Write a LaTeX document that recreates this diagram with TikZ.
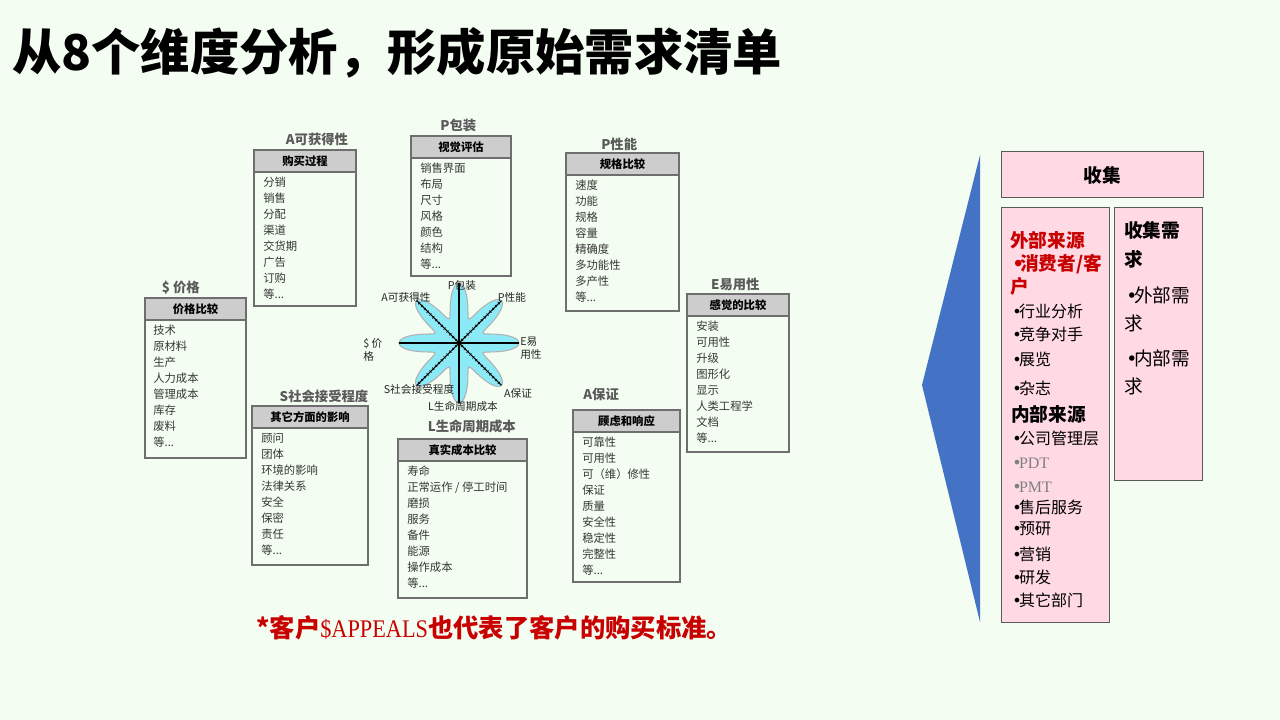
\documentclass[tikz,border=0pt]{standalone}
\usepackage{fontspec}
\setmainfont{Noto Sans CJK SC}
\newfontfamily\latinserif{Liberation Serif}
\newfontfamily\bulletfont{DejaVu Sans}
\usetikzlibrary{positioning,calc}

\newcommand\dotmark{\makebox[0.42em][l]{\bulletfont •}}

\definecolor{slidebg}{RGB}{243,253,241}
\definecolor{framegray}{RGB}{110,110,110}
\definecolor{hdrgray}{RGB}{205,205,205}
\definecolor{petal}{RGB}{140,234,246}
\definecolor{catgray}{RGB}{90,90,90}
\definecolor{itemgray}{RGB}{55,55,55}
\definecolor{notered}{RGB}{200,0,0}
\definecolor{chevron}{RGB}{68,114,196}
\definecolor{pinkfill}{RGB}{255,217,228}
\definecolor{pinkline}{RGB}{89,89,89}

\tikzset{
  hdr/.style={draw=framegray, line width=1.5pt, fill=hdrgray, anchor=north west, inner sep=0pt, outer sep=0pt,
    minimum height=16.5pt, font=\bfseries\fontsize{8.5}{10}\selectfont},
  frame/.style={draw=framegray, line width=1.5pt},
  items/.style={anchor=north west, align=left, inner sep=0pt, text=itemgray, font=\fontsize{8.5}{12}\selectfont},
  cat/.style={text=catgray, inner sep=0pt, font=\bfseries\fontsize{10}{12}\selectfont},
  axislbl/.style={inner sep=0pt, text=black!85, font=\fontsize{8}{9.75}\selectfont},
  pinkbox/.style={draw=pinkline, fill=pinkfill, line width=0.75pt, anchor=north west, inner sep=0pt, outer sep=0pt},
  srcitem/.style={anchor=west, inner sep=0pt, font=\fontsize{12}{14}\selectfont},
  srchead/.style={anchor=west, inner sep=0pt, font=\bfseries\fontsize{14}{16}\selectfont},
  needitem/.style={anchor=west, inner sep=0pt, font=\fontsize{14}{16}\selectfont},
}

\begin{document}
\begin{tikzpicture}[x=0.75pt,y=-0.75pt]
\useasboundingbox (0,0) rectangle (1280,720);
\fill[slidebg] (0,0) rectangle (1280,720);

% title
\node[anchor=west, inner sep=0pt, font=\bfseries\fontsize{37}{40}\selectfont] (title) at (12,53) {从8个维度分析，形成原始需求清单};

% $ price
\node[hdr, minimum width=75.75pt] (priceH) at (145,298) {价格比较};
\draw[frame] (priceH.north west) rectangle ++(101,160);
\node[items] (priceL) at ($(priceH.south west)+(8,5)$) {技术\\原材料\\生产\\人力成本\\管理成本\\库存\\废料\\等...};
\node[cat, above=3pt of priceH, xshift=-11pt] (priceT) {\$ 价格};

% A availability
\node[hdr, minimum width=76.5pt] (availH) at (254,150) {购买过程};
\draw[frame] (availH.north west) rectangle ++(102,156);
\node[items] (availL) at ($(availH.south west)+(9,5)$) {分销\\销售\\分配\\渠道\\交货期\\广告\\订购\\等...};
\node[cat, above=3pt of availH, xshift=9pt] (availT) {A可获得性};

% P packaging
\node[hdr, minimum width=75pt] (packH) at (411,136) {视觉评估};
\draw[frame] (packH.north west) rectangle ++(100,140);
\node[items] (packL) at ($(packH.south west)+(9,5)$) {销售界面\\布局\\尺寸\\风格\\颜色\\结构\\等...};
\node[cat, above=3pt of packH, xshift=-2pt] (packT) {P包装};

% P performance
\node[hdr, minimum width=84.75pt] (perfH) at (566,153) {规格比较};
\draw[frame] (perfH.north west) rectangle ++(113,158);
\node[items] (perfL) at ($(perfH.south west)+(9,5)$) {速度\\功能\\规格\\容量\\精确度\\多功能性\\多产性\\等...};
\node[cat, above=1.5pt of perfH, xshift=-2.5pt] (perfT) {P性能};

% E ease of use
\node[hdr, minimum width=76.5pt] (easeH) at (687,294) {感觉的比较};
\draw[frame] (easeH.north west) rectangle ++(102,158);
\node[items] (easeL) at ($(easeH.south west)+(9,5)$) {安装\\可用性\\升级\\图形化\\显示\\人类工程学\\文档\\等...};
\node[cat, above=2pt of easeH, xshift=-2pt] (easeT) {E易用性};

% A assurances
\node[hdr, minimum width=80.25pt] (assurH) at (573,410) {顾虑和响应};
\draw[frame] (assurH.north west) rectangle ++(107,172);
\node[items] (assurL) at ($(assurH.south west)+(9,5)$) {可靠性\\可用性\\可（维）修性\\保证\\质量\\安全性\\稳定性\\完整性\\等...};
\node[cat, above=7pt of assurH, xshift=-19pt] (assurT) {A保证};

% S social acceptance
\node[hdr, minimum width=87pt] (socH) at (252,406) {其它方面的影响};
\draw[frame] (socH.north west) rectangle ++(116,159);
\node[items] (socL) at ($(socH.south west)+(9,5)$) {顾问\\团体\\环境的影响\\法律关系\\安全\\保密\\责任\\等...};
\node[cat, above=2pt of socH, xshift=10.5pt] (socT) {S社会接受程度};

% L life cycle cost
\node[hdr, minimum width=96.75pt] (lifeH) at (398,439) {真实成本比较};
\draw[frame] (lifeH.north west) rectangle ++(129,159);
\node[items] (lifeL) at ($(lifeH.south west)+(9,5)$) {寿命\\正常运作 / 停工时间\\磨损\\服务\\备件\\能源\\操作成本\\等...};
\node[cat, above=4pt of lifeH, xshift=7pt] (lifeT) {L生命周期成本};

% star
\coordinate (ctr) at (459,343);
\begin{scope}[shift={(ctr)}]
\draw[fill=petal, draw=gray!60, line width=0.8pt] plot[smooth cycle, samples=144, domain=0:357.5, variable=\t] (\t:{26+34*(1+cos(8*\t))/2});
\end{scope}
\foreach \a in {0,45,...,315} {
  \draw[black, line width=0.8pt] (ctr) -- ++(\a:60);
  \draw[black, line width=2.2pt, dash pattern=on 0.45pt off 2.55pt] (ctr) -- ++(\a:58);
}
\fill (ctr) circle (2.7);
\node[axislbl] (sP) at (462,285) {P包装};
\node[axislbl] (sPf) at (512,297) {P性能};
\node[axislbl, anchor=west, align=left] (sE) at (520,348) {E易\\用性};
\node[axislbl] (sA) at (518,393) {A保证};
\node[axislbl] (sL) at (463,406) {L生命周期成本};
\node[axislbl] (sS) at (419,389) {S社会接受程度};
\node[axislbl, anchor=west, align=left] (sD) at (363,350) {\$ 价\\格};
\node[axislbl] (sAv) at (406,297) {A可获得性};

% footnote
\node[anchor=west, inner sep=0pt, text=notered, font=\bfseries\fontsize{19}{21}\selectfont] (note) at (256,628)
  {*客户{\normalfont\latinserif\scalebox{0.88}[1]{\$APPEALS}}也代表了客户的购买标准。};

% right panel
\fill[chevron] (980,155) -- (980,622) -- (922,385) -- cycle;
\node[pinkbox, minimum width=151.5pt, minimum height=34.5pt, font=\bfseries\fontsize{14}{16}\selectfont] (collect) at (1001,152) {收集};
\node[pinkbox, minimum width=81pt, minimum height=310.5pt] (source) at (1001,208) {};
\node[pinkbox, minimum width=66pt, minimum height=204pt] (needs) at (1114,208) {};

\node[srchead, text=notered] (ext) at (1010,240) {外部来源};
\node[srchead, text=notered] (cust) at (1012,264) {\dotmark 消费者/客};
\node[srchead, text=notered] (cust2) at (1010,286) {户};
\foreach \y/\t in {311/行业分析, 334/竞争对手, 359/展览, 388/杂志}
  \node[srcitem] (e\y) at (1012,\y) {\dotmark\t};
\node[srchead] (int) at (1011,414) {内部来源};
\node[srcitem] (i438) at (1012,438) {\dotmark 公司管理层};
\node[srcitem, text=gray, font=\latinserif\fontsize{12}{14}\selectfont] (i463) at (1012,463) {\dotmark PDT};
\node[srcitem, text=gray, font=\latinserif\fontsize{12}{14}\selectfont] (i487) at (1012,487) {\dotmark PMT};
\foreach \y/\t in {507/售后服务, 529/预研, 554/营销, 577/研发, 600/其它部门}
  \node[srcitem] (i\y) at (1012,\y) {\dotmark\t};

\node[srchead] (g1) at (1124,230) {收集需};
\node[srchead] (g2) at (1124,259) {求};
\node[needitem] (g3) at (1126,295) {\dotmark 外部需};
\node[needitem] (g4) at (1124,323) {求};
\node[needitem] (g5) at (1126,358) {\dotmark 内部需};
\node[needitem] (g6) at (1124,386) {求};
\end{tikzpicture}
\end{document}
